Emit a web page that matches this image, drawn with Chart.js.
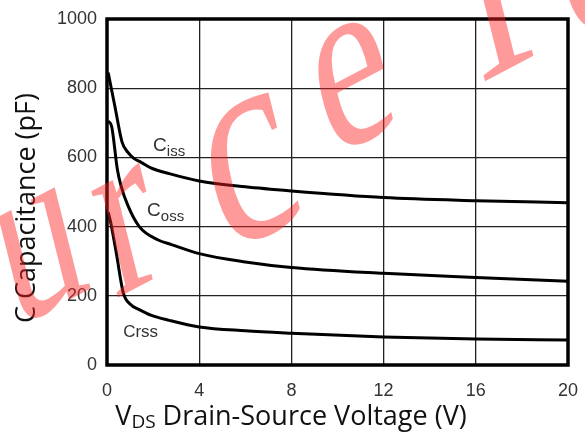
<!DOCTYPE html>
<html>
<head>
<meta charset="utf-8">
<script src="https://cdn.jsdelivr.net/npm/chart.js@4"></script>
<style>
  html, body { margin: 0; padding: 0; background: #fff; }
  #chart { display: block; }
</style>
</head>
<body>
<canvas id="chart" width="585" height="441"></canvas>
<script>
// Values (V in volts, C in pF)
const cissV = [0.05, 0.35, 0.65, 0.9, 1.15, 1.5, 1.9, 2.7, 4, 6, 8, 12, 16, 20];
const cissC = [845, 745, 645, 615, 598, 585, 570, 553, 532, 515, 503, 484, 475, 469];

const cossV = [0.05, 0.2, 0.45, 0.6, 0.9, 1.4, 2.2, 2.8, 4, 6, 8, 12, 16, 20];
const cossC = [705, 690, 565, 520, 462, 400, 362, 348, 322, 298, 282, 265, 253, 242];

const crssV = [0.05, 0.15, 0.4, 0.7, 1.0, 1.4, 1.9, 2.7, 4, 6, 8, 12, 16, 20];
const crssC = [442, 415, 325, 210, 176, 160, 144, 129, 110, 99, 92, 81, 75, 72];

const xTicks = [0, 4, 8, 12, 16, 20];
const yTicks = [0, 200, 400, 600, 800, 1000];

const xTitle = ["V", "DS", " Drain-Source Voltage (V)"];
const yTitle = "C Capacitance (pF)";

// curve names: main letter, subscript, where to write them (V, pF)
const curveNames = [
    { main: "C", sub: "iss", v: 2.0, c: 618 },
    { main: "C", sub: "oss", v: 1.74, c: 431 },
    { main: "Crss", sub: "", v: 0.7, c: 80 }
];

// red watermark across the picture, letter by letter (centre in px)
const watermark = [
    { ch: "u", x: 40, y: 255, size: 170 },
    { ch: "r", x: 128, y: 232, size: 170 },
    { ch: "c", x: 250, y: 172, size: 200 },
    { ch: "e", x: 353, y: 85, size: 175 },
    { ch: "T", x: 490, y: -8, size: 170 },
    { ch: "e", x: 594, y: -30, size: 170 }
];

function toPoints(xs, ys) {
    return xs.map((x, i) => ({ x: x, y: ys[i] }));
}

const tickFont = { family: "'Liberation Sans', Arial, sans-serif", size: 18 };
const titleFamily = "'Open Sans', 'Noto Sans', sans-serif";

const framePlugin = {
    id: "frame",
    afterDatasetsDraw(chart) {
        const { ctx, chartArea: a } = chart;
        ctx.save();
        ctx.strokeStyle = "#000";
        ctx.lineWidth = 3.5;
        ctx.strokeRect(a.left, a.top, a.right - a.left, a.bottom - a.top);
        ctx.restore();
    },
    afterDraw(chart) {
        const { ctx, scales } = chart;
        ctx.save();
        ctx.fillStyle = "#111";

        // y title, rotated
        ctx.translate(27, 208);
        ctx.rotate(-Math.PI / 2);
        ctx.font = "27px " + titleFamily;
        ctx.textAlign = "center";
        ctx.textBaseline = "middle";
        ctx.fillText(yTitle, 0, 0);
        ctx.setTransform(1, 0, 0, 1, 0, 0);

        // x title with subscript
        ctx.textBaseline = "alphabetic";
        ctx.textAlign = "left";
        const big = "27px " + titleFamily, small = "19px " + titleFamily;
        ctx.font = big;
        const w0 = ctx.measureText(xTitle[0]).width;
        const w2 = ctx.measureText(xTitle[2]).width;
        ctx.font = small;
        const w1 = ctx.measureText(xTitle[1]).width;
        let x = 291 - (w0 + w1 + w2) / 2;
        const base = 425;
        ctx.font = big;
        ctx.fillText(xTitle[0], x, base);
        x += w0;
        ctx.font = small;
        ctx.fillText(xTitle[1], x, base + 3);
        x += w1;
        ctx.font = big;
        ctx.fillText(xTitle[2], x, base);

        // curve names
        ctx.fillStyle = "#333";
        curveNames.forEach(n => {
            const px = scales.x.getPixelForValue(n.v);
            const py = scales.y.getPixelForValue(n.c);
            ctx.font = (n.sub ? 19 : 17) + "px 'Liberation Sans', Arial, sans-serif";
            ctx.fillText(n.main, px, py);
            if (n.sub) {
                const w = ctx.measureText(n.main).width;
                ctx.font = "15px 'Liberation Sans', Arial, sans-serif";
                ctx.fillText(n.sub, px + w, py + 5);
            }
        });

        // watermark: tall serif letters, tilted
        ctx.fillStyle = "rgba(255, 30, 30, 0.45)";
        ctx.textAlign = "center";
        ctx.textBaseline = "alphabetic";
        watermark.forEach(l => {
            ctx.font = l.size + "px 'Liberation Serif', serif";
            const mid = (l.ch === l.ch.toUpperCase() ? 0.33 : 0.23) * l.size;
            ctx.setTransform(1, 0, 0, 1, 0, 0);
            ctx.translate(l.x, l.y);
            ctx.scale(1, 1.45);
            ctx.rotate(-20 * Math.PI / 180);
            ctx.fillText(l.ch, 0, mid);
        });
        ctx.restore();
    }
};

const lineStyle = {
    borderColor: "#000",
    borderWidth: 3,
    pointRadius: 0,
    fill: false,
    cubicInterpolationMode: "monotone"
};

new Chart(document.getElementById("chart").getContext("2d"), {
    type: "line",
    data: {
        datasets: [
            Object.assign({ label: "Ciss", data: toPoints(cissV, cissC) }, lineStyle),
            Object.assign({ label: "Coss", data: toPoints(cossV, cossC) }, lineStyle),
            Object.assign({ label: "Crss", data: toPoints(crssV, crssC) }, lineStyle)
        ]
    },
    options: {
        responsive: false,
        animation: false,
        layout: { padding: { top: 19, right: 17, left: 0, bottom: 0 } },
        plugins: { legend: { display: false }, tooltip: { enabled: false } },
        scales: {
            x: {
                type: "linear",
                min: 0,
                max: 20,
                afterBuildTicks(s) { s.ticks = xTicks.map(v => ({ value: v })); },
                afterFit(s) { s.height = 76; s.paddingLeft = 0; s.paddingRight = 0; },
                ticks: { font: tickFont, color: "#333", padding: 15, callback: v => String(v) },
                grid: { color: "#222", lineWidth: 1.3, drawTicks: false },
                border: { display: false }
            },
            y: {
                min: 0,
                max: 1000,
                afterBuildTicks(s) { s.ticks = yTicks.map(v => ({ value: v })); },
                afterFit(s) { s.width = 107; s.paddingTop = 0; s.paddingBottom = 0; },
                ticks: { font: tickFont, color: "#333", padding: 10, callback: v => String(v) },
                grid: { color: "#222", lineWidth: 1.3, drawTicks: false },
                border: { display: false }
            }
        }
    },
    plugins: [framePlugin]
});
</script>
</body>
</html>
